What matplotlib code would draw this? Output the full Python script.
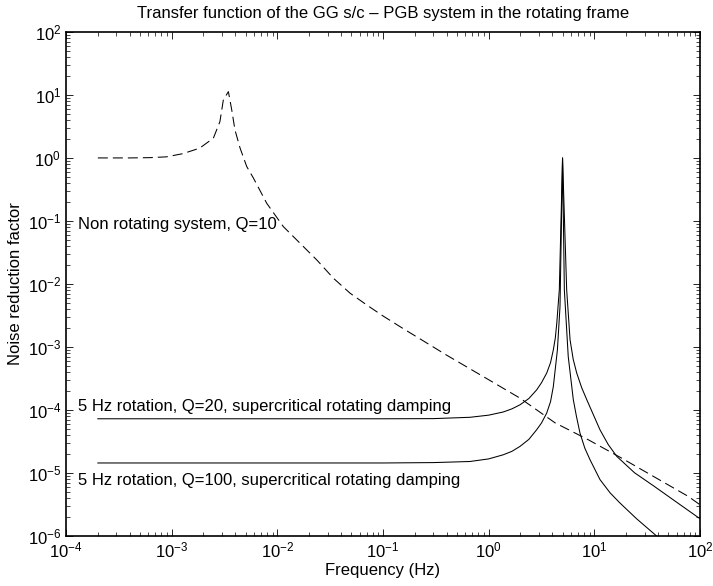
import matplotlib
matplotlib.use("Agg")
import matplotlib.pyplot as plt

plt.rcParams['font.family'] = ['Liberation Sans', 'DejaVu Sans']
plt.rcParams['mathtext.default'] = 'regular'
plt.rcParams['lines.scale_dashes'] = False

# Non rotating system, Q=10 (dashed)
f_nonrot = [2.0e-4, 4.0e-4, 6.2e-4, 8.9e-4, 1.28e-3, 1.84e-3, 2.48e-3, 2.86e-3,
            3.08e-3, 3.44e-3, 3.70e-3, 3.97e-3, 4.44e-3, 5.13e-3, 5.93e-3,
            7.94e-3, 1.14e-2, 2.36e-2, 3.39e-2, 4.88e-2, 7.08e-2, 0.1, 0.158,
            0.232, 0.398, 1.0, 1.98, 4.25, 8.77, 18.2, 77.6, 100]
h_nonrot = [1.0, 1.0, 1.01, 1.04, 1.17, 1.43, 2.06, 3.77,
            8.3, 11.3, 5.8, 2.78, 1.43, 0.73, 0.48,
            0.19, 0.081, 0.024, 0.0123, 7.1e-3, 4.57e-3, 3.09e-3, 1.91e-3,
            1.29e-3, 7.41e-4, 3.0e-4, 1.53e-4, 6.2e-5, 3.34e-5, 1.70e-5, 4.2e-6, 3.1e-6]

# 5 Hz rotation, Q=20
f_q20 = [2.0e-4, 0.1, 0.3, 0.665, 1.0, 1.374, 1.66, 1.977, 2.40, 2.844, 3.16,
         3.54, 3.85, 4.09, 4.27, 4.41, 4.66,
         5.0, 5.47, 5.89, 6.31, 6.81, 7.59, 8.47, 11.3, 13.5, 16.3, 24.0, 36.3,
         60.3, 100]
h_q20 = [7.2e-5, 7.2e-5, 7.24e-5, 7.6e-5, 8.22e-5, 9.23e-5, 1.035e-4, 1.20e-4,
         1.51e-4, 2.07e-4, 2.69e-4, 3.83e-4, 5.62e-4, 8.95e-4, 1.38e-3, 2.38e-3,
         8.04e-3, 1.0, 8.04e-3, 1.29e-3, 6.31e-4, 3.83e-4, 2.24e-4, 1.45e-4,
         4.82e-5, 2.82e-5, 1.82e-5, 1.0e-5, 6.2e-6, 3.39e-6, 1.86e-6]

# 5 Hz rotation, Q=100
f_q100 = [2.0e-4, 0.1, 0.3, 0.665, 1.0, 1.374, 1.66, 1.977, 2.40, 2.844, 3.16,
          3.54, 3.85, 4.09, 4.47, 4.73,
          5.0, 5.20, 5.66, 6.32, 6.76, 7.31, 8.13, 9.10, 11.3, 14.1, 17.5, 25.1,
          36.1, 50.1]
h_q100 = [1.43e-5, 1.43e-5, 1.45e-5, 1.51e-5, 1.66e-5, 1.93e-5, 2.19e-5, 2.62e-5,
          3.39e-5, 4.82e-5, 6.17e-5, 8.87e-5, 1.35e-4, 2.34e-4, 8.95e-4, 4.37e-3,
          1.0, 8.04e-3, 7.0e-4, 1.45e-4, 7.94e-5, 4.27e-5, 2.45e-5, 1.61e-5,
          7.8e-6, 4.79e-6, 3.3e-6, 1.86e-6, 1.10e-6, 6.8e-7]

fig = plt.figure(figsize=(7.13, 5.86), dpi=100)
ax = fig.add_axes([0.0926, 0.0858, 0.8892, 0.8596])

ax.plot(f_nonrot, h_nonrot, color='black', lw=0.75, linestyle=(0, (7.2, 3.6)))
ax.plot(f_q20, h_q20, color='black', lw=0.75)
ax.plot(f_q100, h_q100, color='black', lw=0.75)

ax.set_xscale('log')
ax.set_yscale('log')
ax.set_xlim(1e-4, 1e2)
ax.set_ylim(1e-6, 1e2)

ax.text(1.3e-4, 0.089, 'Non rotating system, Q=10', fontsize=12, va='center')
ax.text(1.3e-4, 1.13e-4, '5 Hz rotation, Q=20, supercritical rotating damping',
        fontsize=12, va='center')
ax.text(1.3e-4, 7.55e-6, '5 Hz rotation, Q=100, supercritical rotating damping',
        fontsize=12, va='center')

ax.set_title('Transfer function of the GG s/c \u2013 PGB system in the rotating frame',
             fontsize=12, pad=10)
ax.set_xlabel('Frequency (Hz)', fontsize=12, labelpad=2)
ax.set_ylabel('Noise reduction factor', fontsize=12, labelpad=3)

ax.tick_params(which='both', direction='in', top=True, right=True, labelsize=12)
ax.tick_params(which='major', length=5, width=0.6)
ax.tick_params(which='minor', length=3, width=0.5)
for s in ax.spines.values():
    s.set_linewidth(1.2)

fig.savefig('out.png', dpi=100)
